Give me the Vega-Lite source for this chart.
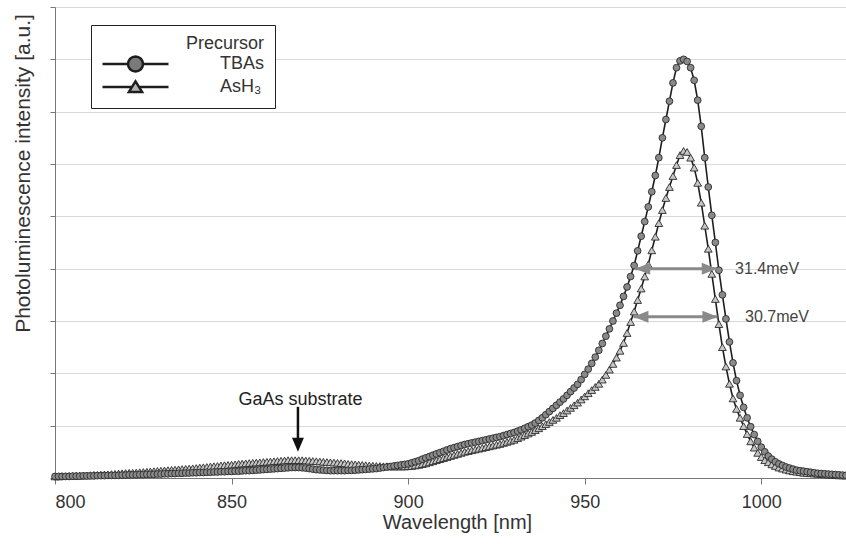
{
  "$schema": "https://vega.github.io/schema/vega-lite/v6.json",
  "autosize": {"type": "none"},
  "width": 791,
  "height": 471,
  "padding": {"left": 55, "top": 7, "right": 0, "bottom": 66},
  "background": "white",
  "config": {"font": "Liberation Sans", "view": {"stroke": null}},
  "datasets": {
    "pl": [
      {"w":800,"TBAs":0.03,"AsH3":0.03},{"w":801,"TBAs":0.03,"AsH3":0.03},{"w":802,"TBAs":0.03,"AsH3":0.035},{"w":803,"TBAs":0.03,"AsH3":0.035},{"w":804,"TBAs":0.03,"AsH3":0.04},
      {"w":805,"TBAs":0.035,"AsH3":0.04},{"w":806,"TBAs":0.035,"AsH3":0.045},{"w":807,"TBAs":0.035,"AsH3":0.045},{"w":808,"TBAs":0.04,"AsH3":0.05},{"w":809,"TBAs":0.04,"AsH3":0.05},
      {"w":810,"TBAs":0.04,"AsH3":0.055},{"w":811,"TBAs":0.04,"AsH3":0.06},{"w":812,"TBAs":0.045,"AsH3":0.06},{"w":813,"TBAs":0.045,"AsH3":0.065},{"w":814,"TBAs":0.045,"AsH3":0.07},
      {"w":815,"TBAs":0.05,"AsH3":0.07},{"w":816,"TBAs":0.05,"AsH3":0.075},{"w":817,"TBAs":0.05,"AsH3":0.08},{"w":818,"TBAs":0.05,"AsH3":0.085},{"w":819,"TBAs":0.055,"AsH3":0.09},
      {"w":820,"TBAs":0.055,"AsH3":0.095},{"w":821,"TBAs":0.06,"AsH3":0.1},{"w":822,"TBAs":0.06,"AsH3":0.1},{"w":823,"TBAs":0.06,"AsH3":0.105},{"w":824,"TBAs":0.065,"AsH3":0.11},
      {"w":825,"TBAs":0.065,"AsH3":0.115},{"w":826,"TBAs":0.07,"AsH3":0.12},{"w":827,"TBAs":0.07,"AsH3":0.125},{"w":828,"TBAs":0.07,"AsH3":0.13},{"w":829,"TBAs":0.075,"AsH3":0.135},
      {"w":830,"TBAs":0.075,"AsH3":0.14},{"w":831,"TBAs":0.08,"AsH3":0.145},{"w":832,"TBAs":0.08,"AsH3":0.15},{"w":833,"TBAs":0.085,"AsH3":0.155},{"w":834,"TBAs":0.085,"AsH3":0.16},
      {"w":835,"TBAs":0.09,"AsH3":0.165},{"w":836,"TBAs":0.09,"AsH3":0.17},{"w":837,"TBAs":0.095,"AsH3":0.175},{"w":838,"TBAs":0.095,"AsH3":0.18},{"w":839,"TBAs":0.1,"AsH3":0.185},
      {"w":840,"TBAs":0.1,"AsH3":0.19},{"w":841,"TBAs":0.105,"AsH3":0.2},{"w":842,"TBAs":0.105,"AsH3":0.205},{"w":843,"TBAs":0.11,"AsH3":0.21},{"w":844,"TBAs":0.11,"AsH3":0.22},
      {"w":845,"TBAs":0.115,"AsH3":0.225},{"w":846,"TBAs":0.115,"AsH3":0.23},{"w":847,"TBAs":0.12,"AsH3":0.24},{"w":848,"TBAs":0.12,"AsH3":0.245},{"w":849,"TBAs":0.125,"AsH3":0.25},
      {"w":850,"TBAs":0.125,"AsH3":0.255},{"w":851,"TBAs":0.13,"AsH3":0.26},{"w":852,"TBAs":0.13,"AsH3":0.27},{"w":853,"TBAs":0.135,"AsH3":0.275},{"w":854,"TBAs":0.14,"AsH3":0.28},
      {"w":855,"TBAs":0.14,"AsH3":0.285},{"w":856,"TBAs":0.145,"AsH3":0.29},{"w":857,"TBAs":0.15,"AsH3":0.295},{"w":858,"TBAs":0.155,"AsH3":0.3},{"w":859,"TBAs":0.16,"AsH3":0.305},
      {"w":860,"TBAs":0.165,"AsH3":0.31},{"w":861,"TBAs":0.17,"AsH3":0.315},{"w":862,"TBAs":0.175,"AsH3":0.32},{"w":863,"TBAs":0.18,"AsH3":0.325},{"w":864,"TBAs":0.185,"AsH3":0.33},
      {"w":865,"TBAs":0.19,"AsH3":0.335},{"w":866,"TBAs":0.195,"AsH3":0.34},{"w":867,"TBAs":0.2,"AsH3":0.34},{"w":868,"TBAs":0.2,"AsH3":0.34},{"w":869,"TBAs":0.2,"AsH3":0.34},
      {"w":870,"TBAs":0.195,"AsH3":0.34},{"w":871,"TBAs":0.19,"AsH3":0.335},{"w":872,"TBAs":0.18,"AsH3":0.33},{"w":873,"TBAs":0.17,"AsH3":0.325},{"w":874,"TBAs":0.16,"AsH3":0.32},
      {"w":875,"TBAs":0.155,"AsH3":0.315},{"w":876,"TBAs":0.15,"AsH3":0.31},{"w":877,"TBAs":0.145,"AsH3":0.305},{"w":878,"TBAs":0.14,"AsH3":0.3},{"w":879,"TBAs":0.14,"AsH3":0.295},
      {"w":880,"TBAs":0.14,"AsH3":0.29},{"w":881,"TBAs":0.14,"AsH3":0.285},{"w":882,"TBAs":0.14,"AsH3":0.28},{"w":883,"TBAs":0.145,"AsH3":0.27},{"w":884,"TBAs":0.145,"AsH3":0.265},
      {"w":885,"TBAs":0.15,"AsH3":0.26},{"w":886,"TBAs":0.155,"AsH3":0.255},{"w":887,"TBAs":0.16,"AsH3":0.25},{"w":888,"TBAs":0.165,"AsH3":0.245},{"w":889,"TBAs":0.17,"AsH3":0.24},
      {"w":890,"TBAs":0.175,"AsH3":0.235},{"w":891,"TBAs":0.18,"AsH3":0.23},{"w":892,"TBAs":0.19,"AsH3":0.23},{"w":893,"TBAs":0.2,"AsH3":0.225},{"w":894,"TBAs":0.21,"AsH3":0.225},
      {"w":895,"TBAs":0.22,"AsH3":0.22},{"w":896,"TBAs":0.23,"AsH3":0.22},{"w":897,"TBAs":0.24,"AsH3":0.22},{"w":898,"TBAs":0.25,"AsH3":0.22},{"w":899,"TBAs":0.26,"AsH3":0.22},
      {"w":900,"TBAs":0.27,"AsH3":0.225},{"w":901,"TBAs":0.29,"AsH3":0.23},{"w":902,"TBAs":0.31,"AsH3":0.24},{"w":903,"TBAs":0.33,"AsH3":0.25},{"w":904,"TBAs":0.36,"AsH3":0.265},
      {"w":905,"TBAs":0.385,"AsH3":0.28},{"w":906,"TBAs":0.41,"AsH3":0.3},{"w":907,"TBAs":0.435,"AsH3":0.32},{"w":908,"TBAs":0.46,"AsH3":0.34},{"w":909,"TBAs":0.485,"AsH3":0.36},
      {"w":910,"TBAs":0.51,"AsH3":0.38},{"w":911,"TBAs":0.535,"AsH3":0.4},{"w":912,"TBAs":0.56,"AsH3":0.42},{"w":913,"TBAs":0.58,"AsH3":0.44},{"w":914,"TBAs":0.6,"AsH3":0.46},
      {"w":915,"TBAs":0.62,"AsH3":0.48},{"w":916,"TBAs":0.64,"AsH3":0.5},{"w":917,"TBAs":0.655,"AsH3":0.515},{"w":918,"TBAs":0.67,"AsH3":0.53},{"w":919,"TBAs":0.685,"AsH3":0.545},
      {"w":920,"TBAs":0.7,"AsH3":0.56},{"w":921,"TBAs":0.715,"AsH3":0.575},{"w":922,"TBAs":0.73,"AsH3":0.59},{"w":923,"TBAs":0.745,"AsH3":0.605},{"w":924,"TBAs":0.76,"AsH3":0.62},
      {"w":925,"TBAs":0.775,"AsH3":0.635},{"w":926,"TBAs":0.79,"AsH3":0.65},{"w":927,"TBAs":0.81,"AsH3":0.67},{"w":928,"TBAs":0.83,"AsH3":0.69},{"w":929,"TBAs":0.85,"AsH3":0.71},
      {"w":930,"TBAs":0.87,"AsH3":0.73},{"w":931,"TBAs":0.895,"AsH3":0.76},{"w":932,"TBAs":0.92,"AsH3":0.79},{"w":933,"TBAs":0.95,"AsH3":0.82},{"w":934,"TBAs":0.98,"AsH3":0.85},
      {"w":935,"TBAs":1.01,"AsH3":0.88},{"w":936,"TBAs":1.05,"AsH3":0.915},{"w":937,"TBAs":1.1,"AsH3":0.95},{"w":938,"TBAs":1.15,"AsH3":0.99},{"w":939,"TBAs":1.21,"AsH3":1.03},
      {"w":940,"TBAs":1.27,"AsH3":1.07},{"w":941,"TBAs":1.33,"AsH3":1.11},{"w":942,"TBAs":1.39,"AsH3":1.15},{"w":943,"TBAs":1.45,"AsH3":1.2},{"w":944,"TBAs":1.51,"AsH3":1.24},
      {"w":945,"TBAs":1.58,"AsH3":1.29},{"w":946,"TBAs":1.65,"AsH3":1.34},{"w":947,"TBAs":1.72,"AsH3":1.39},{"w":948,"TBAs":1.79,"AsH3":1.44},{"w":949,"TBAs":1.88,"AsH3":1.5},
      {"w":950,"TBAs":1.98,"AsH3":1.56},{"w":951,"TBAs":2.08,"AsH3":1.62},{"w":952,"TBAs":2.19,"AsH3":1.68},{"w":953,"TBAs":2.31,"AsH3":1.74},{"w":954,"TBAs":2.44,"AsH3":1.8},
      {"w":955,"TBAs":2.57,"AsH3":1.88},{"w":956,"TBAs":2.71,"AsH3":1.97},{"w":957,"TBAs":2.85,"AsH3":2.07},{"w":958,"TBAs":3.0,"AsH3":2.18},{"w":959,"TBAs":3.15,"AsH3":2.3},
      {"w":960,"TBAs":3.3,"AsH3":2.43},{"w":961,"TBAs":3.47,"AsH3":2.58},{"w":962,"TBAs":3.65,"AsH3":2.77},{"w":963,"TBAs":3.85,"AsH3":2.98},{"w":964,"TBAs":4.06,"AsH3":3.18},
      {"w":965,"TBAs":4.34,"AsH3":3.4},{"w":966,"TBAs":4.62,"AsH3":3.62},{"w":967,"TBAs":4.9,"AsH3":3.85},{"w":968,"TBAs":5.18,"AsH3":4.08},{"w":969,"TBAs":5.47,"AsH3":4.35},
      {"w":970,"TBAs":5.78,"AsH3":4.61},{"w":971,"TBAs":6.12,"AsH3":4.87},{"w":972,"TBAs":6.5,"AsH3":5.12},{"w":973,"TBAs":6.85,"AsH3":5.35},{"w":974,"TBAs":7.2,"AsH3":5.56},
      {"w":975,"TBAs":7.55,"AsH3":5.77},{"w":976,"TBAs":7.84,"AsH3":5.98},{"w":977,"TBAs":7.97,"AsH3":6.17},{"w":978,"TBAs":8.0,"AsH3":6.25},{"w":979,"TBAs":7.96,"AsH3":6.23},
      {"w":980,"TBAs":7.84,"AsH3":6.12},{"w":981,"TBAs":7.6,"AsH3":5.93},{"w":982,"TBAs":7.22,"AsH3":5.64},{"w":983,"TBAs":6.72,"AsH3":5.26},{"w":984,"TBAs":6.12,"AsH3":4.82},
      {"w":985,"TBAs":5.56,"AsH3":4.38},{"w":986,"TBAs":5.02,"AsH3":3.9},{"w":987,"TBAs":4.5,"AsH3":3.42},{"w":988,"TBAs":3.97,"AsH3":2.94},{"w":989,"TBAs":3.5,"AsH3":2.5},
      {"w":990,"TBAs":3.04,"AsH3":2.13},{"w":991,"TBAs":2.6,"AsH3":1.8},{"w":992,"TBAs":2.2,"AsH3":1.52},{"w":993,"TBAs":1.86,"AsH3":1.32},{"w":994,"TBAs":1.58,"AsH3":1.15},
      {"w":995,"TBAs":1.35,"AsH3":0.99},{"w":996,"TBAs":1.15,"AsH3":0.84},{"w":997,"TBAs":0.98,"AsH3":0.7},{"w":998,"TBAs":0.83,"AsH3":0.58},{"w":999,"TBAs":0.7,"AsH3":0.48},
      {"w":1000,"TBAs":0.59,"AsH3":0.4},{"w":1001,"TBAs":0.5,"AsH3":0.34},{"w":1002,"TBAs":0.42,"AsH3":0.3},{"w":1003,"TBAs":0.36,"AsH3":0.26},{"w":1004,"TBAs":0.31,"AsH3":0.23},
      {"w":1005,"TBAs":0.27,"AsH3":0.2},{"w":1006,"TBAs":0.24,"AsH3":0.18},{"w":1007,"TBAs":0.21,"AsH3":0.16},{"w":1008,"TBAs":0.19,"AsH3":0.145},{"w":1009,"TBAs":0.17,"AsH3":0.13},
      {"w":1010,"TBAs":0.15,"AsH3":0.12},{"w":1011,"TBAs":0.14,"AsH3":0.11},{"w":1012,"TBAs":0.13,"AsH3":0.1},{"w":1013,"TBAs":0.12,"AsH3":0.095},{"w":1014,"TBAs":0.11,"AsH3":0.09},
      {"w":1015,"TBAs":0.1,"AsH3":0.085},{"w":1016,"TBAs":0.09,"AsH3":0.08},{"w":1017,"TBAs":0.085,"AsH3":0.075},{"w":1018,"TBAs":0.08,"AsH3":0.07},{"w":1019,"TBAs":0.075,"AsH3":0.065},
      {"w":1020,"TBAs":0.07,"AsH3":0.06},{"w":1021,"TBAs":0.065,"AsH3":0.055},{"w":1022,"TBAs":0.06,"AsH3":0.05},{"w":1023,"TBAs":0.055,"AsH3":0.05},{"w":1024,"TBAs":0.05,"AsH3":0.045}
    ],
    "fwhm": [
      {"y": 4.0, "x1": 964.3, "x2": 987.4, "label": "31.4meV", "lx": 992.6},
      {"y": 3.08, "x1": 963.8, "x2": 987.6, "label": "30.7meV", "lx": 995.4}
    ],
    "gaas": [
      {"w": 868.8, "ytext": 1.4, "ytop": 1.36, "ybot": 0.72, "ytip": 0.5, "tx": 869.5, "label": "GaAs substrate"}
    ]
  },
  "layer": [
    {
      "data": {"name": "pl"},
      "transform": [{"fold": ["TBAs", "AsH3"], "as": ["precursor", "v"]}],
      "layer": [
        {
          "transform": [{"filter": "datum.precursor == 'AsH3'"}],
          "mark": {"type": "line", "stroke": "#1e1e1e", "strokeWidth": 1.6},
          "encoding": {
            "x": {"field": "w", "type": "quantitative", "scale": {"domain": [800, 1024], "nice": false, "zero": false},
              "axis": {"values": [800, 850, 900, 950, 1000], "format": "d", "grid": false, "tickSize": 6, "tickColor": "#777", "domainColor": "#777",
                "labelFontSize": 18, "labelColor": "#333", "labelPadding": 9, "title": "Wavelength [nm]", "titleFontSize": 20,
                "titleFontWeight": "normal", "titleColor": "#333", "titlePadding": 1, "titleX": 402}},
            "y": {"field": "v", "type": "quantitative", "scale": {"domain": [0, 9], "nice": false},
              "axis": {"values": [0, 1, 2, 3, 4, 5, 6, 7, 8, 9], "labels": false, "tickSize": 5, "tickColor": "#777", "domainColor": "#777",
                "grid": true, "gridColor": "#d9d9d9", "gridWidth": 1.2, "title": "Photoluminescence intensity [a.u.]", "titleFontSize": 21,
                "titleFontWeight": "normal", "titleColor": "#333", "titlePadding": 16, "titleY": 166}}
          }
        },
        {
          "transform": [{"filter": "datum.precursor == 'AsH3'"}],
          "mark": {"type": "point", "filled": true, "shape": "triangle-up", "fill": "#c6c6c6", "size": 60, "stroke": "#2a2a2a", "strokeWidth": 0.9, "opacity": 1},
          "encoding": {
            "x": {"field": "w", "type": "quantitative"},
            "y": {"field": "v", "type": "quantitative"}
          }
        },
        {
          "transform": [{"filter": "datum.precursor == 'TBAs'"}],
          "mark": {"type": "line", "stroke": "#1e1e1e", "strokeWidth": 1.6},
          "encoding": {
            "x": {"field": "w", "type": "quantitative"},
            "y": {"field": "v", "type": "quantitative"}
          }
        },
        {
          "transform": [{"filter": "datum.precursor == 'TBAs'"}],
          "mark": {"type": "point", "filled": true, "shape": "circle", "fill": "#8a8a8a", "size": 46, "stroke": "#2a2a2a", "strokeWidth": 0.9, "opacity": 1},
          "encoding": {
            "x": {"field": "w", "type": "quantitative"},
            "y": {"field": "v", "type": "quantitative"}
          }
        },
        {
          "transform": [{"filter": "false"}],
          "mark": {"type": "point", "filled": true, "strokeWidth": 2.5, "opacity": 1},
          "encoding": {
            "x": {"field": "w", "type": "quantitative"},
            "y": {"field": "v", "type": "quantitative"},
            "shape": {"field": "precursor", "type": "nominal",
              "scale": {"domain": ["TBAs", "AsH3"], "range": [
                "M-1,0L-0.227,0M0.227,0L1,0M0.227,0L0.21,0.087L0.161,0.161L0.087,0.21L0,0.227L-0.087,0.21L-0.161,0.161L-0.21,0.087L-0.227,0L-0.21,-0.087L-0.161,-0.161L-0.087,-0.21L0,-0.227L0.087,-0.21L0.161,-0.161L0.21,-0.087Z",
                "M-1,0L-0.106,0M0.106,0L1,0M0,-0.17L0.2,0.15L-0.2,0.15Z"]},
              "legend": {
                "orient": "none", "legendX": 36, "legendY": 18, "title": "Precursor", "titleAnchor": "end",
                "titleFontSize": 18, "titleFontWeight": "normal", "titleColor": "#333", "titlePadding": 0,
                "labelFontSize": 18, "labelColor": "#333", "labelOffset": 50,
                "labelExpr": "datum.value == 'TBAs' ? 'TBAs' : 'AsH₃'",
                "symbolSize": 4356, "symbolStrokeWidth": 2.5,
                "clipHeight": 22, "rowPadding": 1, "padding": 10,
                "strokeColor": "#222", "fillColor": "white"
              }},
            "fill": {"field": "precursor", "type": "nominal", "scale": {"domain": ["TBAs", "AsH3"], "range": ["#7a7a7a", "#b4b4b4"]}},
            "stroke": {"field": "precursor", "type": "nominal", "scale": {"domain": ["TBAs", "AsH3"], "range": ["#1e1e1e", "#1e1e1e"]}}
          }
        }
      ]
    },
    {
      "data": {"name": "fwhm"},
      "layer": [
        {
          "mark": {"type": "rule", "stroke": "#8a8a8a", "strokeWidth": 3},
          "encoding": {
            "x": {"field": "x1", "type": "quantitative"},
            "x2": {"field": "x2"},
            "y": {"field": "y", "type": "quantitative"}
          }
        },
        {
          "mark": {"type": "point", "filled": true, "shape": "M1,-0.8L-1,0L1,0.8Z", "size": 225, "fill": "#8a8a8a", "opacity": 1, "xOffset": 7.5},
          "encoding": {
            "x": {"field": "x1", "type": "quantitative"},
            "y": {"field": "y", "type": "quantitative"}
          }
        },
        {
          "mark": {"type": "point", "filled": true, "shape": "M-1,-0.8L1,0L-1,0.8Z", "size": 225, "fill": "#8a8a8a", "opacity": 1, "xOffset": -7.5},
          "encoding": {
            "x": {"field": "x2", "type": "quantitative"},
            "y": {"field": "y", "type": "quantitative"}
          }
        },
        {
          "mark": {"type": "text", "align": "left", "baseline": "middle", "fontSize": 16, "fill": "#444"},
          "encoding": {
            "x": {"field": "lx", "type": "quantitative"},
            "y": {"field": "y", "type": "quantitative"},
            "text": {"field": "label"}
          }
        }
      ]
    },
    {
      "data": {"name": "gaas"},
      "layer": [
        {
          "mark": {"type": "text", "align": "center", "baseline": "alphabetic", "fontSize": 18, "fill": "#222"},
          "encoding": {
            "x": {"field": "tx", "type": "quantitative"},
            "y": {"field": "ytext", "type": "quantitative"},
            "text": {"field": "label"}
          }
        },
        {
          "mark": {"type": "rule", "stroke": "#111", "strokeWidth": 2.5},
          "encoding": {
            "x": {"field": "w", "type": "quantitative"},
            "y": {"field": "ytop", "type": "quantitative"},
            "y2": {"field": "ybot"}
          }
        },
        {
          "mark": {"type": "point", "filled": true, "shape": "M-0.85,-1L0.85,-1L0,1Z", "size": 196, "fill": "#111", "opacity": 1, "yOffset": -7},
          "encoding": {
            "x": {"field": "w", "type": "quantitative"},
            "y": {"field": "ytip", "type": "quantitative"}
          }
        }
      ]
    }
  ]
}
